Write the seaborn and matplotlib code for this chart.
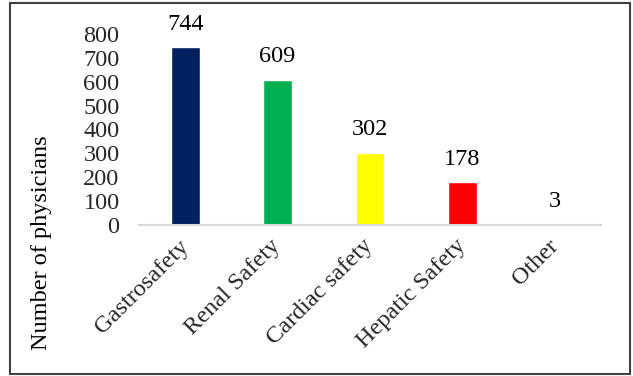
import matplotlib
matplotlib.use("Agg")
import matplotlib.pyplot as plt
import seaborn as sns
import pandas as pd
from matplotlib.patches import Rectangle

categories = ["Gastrosafety", "Renal Safety", "Cardiac safety", "Hepatic Safety", "Other"]
physicians = [744, 609, 302, 178, 3]
bar_colors = ["#002060", "#00B050", "#FFFF00", "#FF0000", "#A5A5A5"]
y_ticks = [0, 100, 200, 300, 400, 500, 600, 700, 800]

sns.set_theme(style="white")
plt.rcParams["font.family"] = ["Liberation Serif", "DejaVu Serif"]

df = pd.DataFrame({"category": categories, "count": physicians})

fig = plt.figure(figsize=(6.33, 3.76), dpi=100)
ax = fig.add_axes([0.2196, 0.4016, 0.7298, 0.508])

sns.barplot(data=df, x="category", y="count", hue="category",
            palette=bar_colors, width=0.31, legend=False, ax=ax,
            saturation=1)

fs = 17.5
for bar, val in zip(ax.patches, physicians):
    ax.annotate(f"{val}", (bar.get_x() + bar.get_width() / 2, val),
                xytext=(0, 9), textcoords="offset points",
                ha="center", va="bottom", fontsize=fs, color="black")

ax.set_ylim(0, 800)
ax.set_xlim(-0.5, len(categories) - 0.5)
ax.set_yticks(y_ticks)
ax.set_yticklabels([str(t) for t in y_ticks], fontsize=fs)
ax.tick_params(axis="y", length=0, pad=14)
ax.tick_params(axis="x", length=0, pad=13)
plt.setp(ax.get_xticklabels(), rotation=45, ha="right", va="center",
         rotation_mode="anchor", fontsize=fs)

for side in ["top", "right", "left"]:
    ax.spines[side].set_visible(False)
ax.spines["bottom"].set_color("#D9D9D9")
ax.spines["bottom"].set_linewidth(1.5)

ax.set_xlabel("")
ax.set_ylabel("")

# y-axis title, placed low beside the rotated category labels
fig.text(42 / 633, 1 - 243 / 376, "Number of physicians", rotation=90,
         ha="center", va="center", fontsize=fs, color="black")

# frame around the whole chart
fig.patches.append(Rectangle((10 / 633, 2 / 376), 620 / 633, 371 / 376,
                             transform=fig.transFigure, fill=False,
                             edgecolor="#404040", linewidth=1.5))

fig.savefig("out.png", dpi=100)
